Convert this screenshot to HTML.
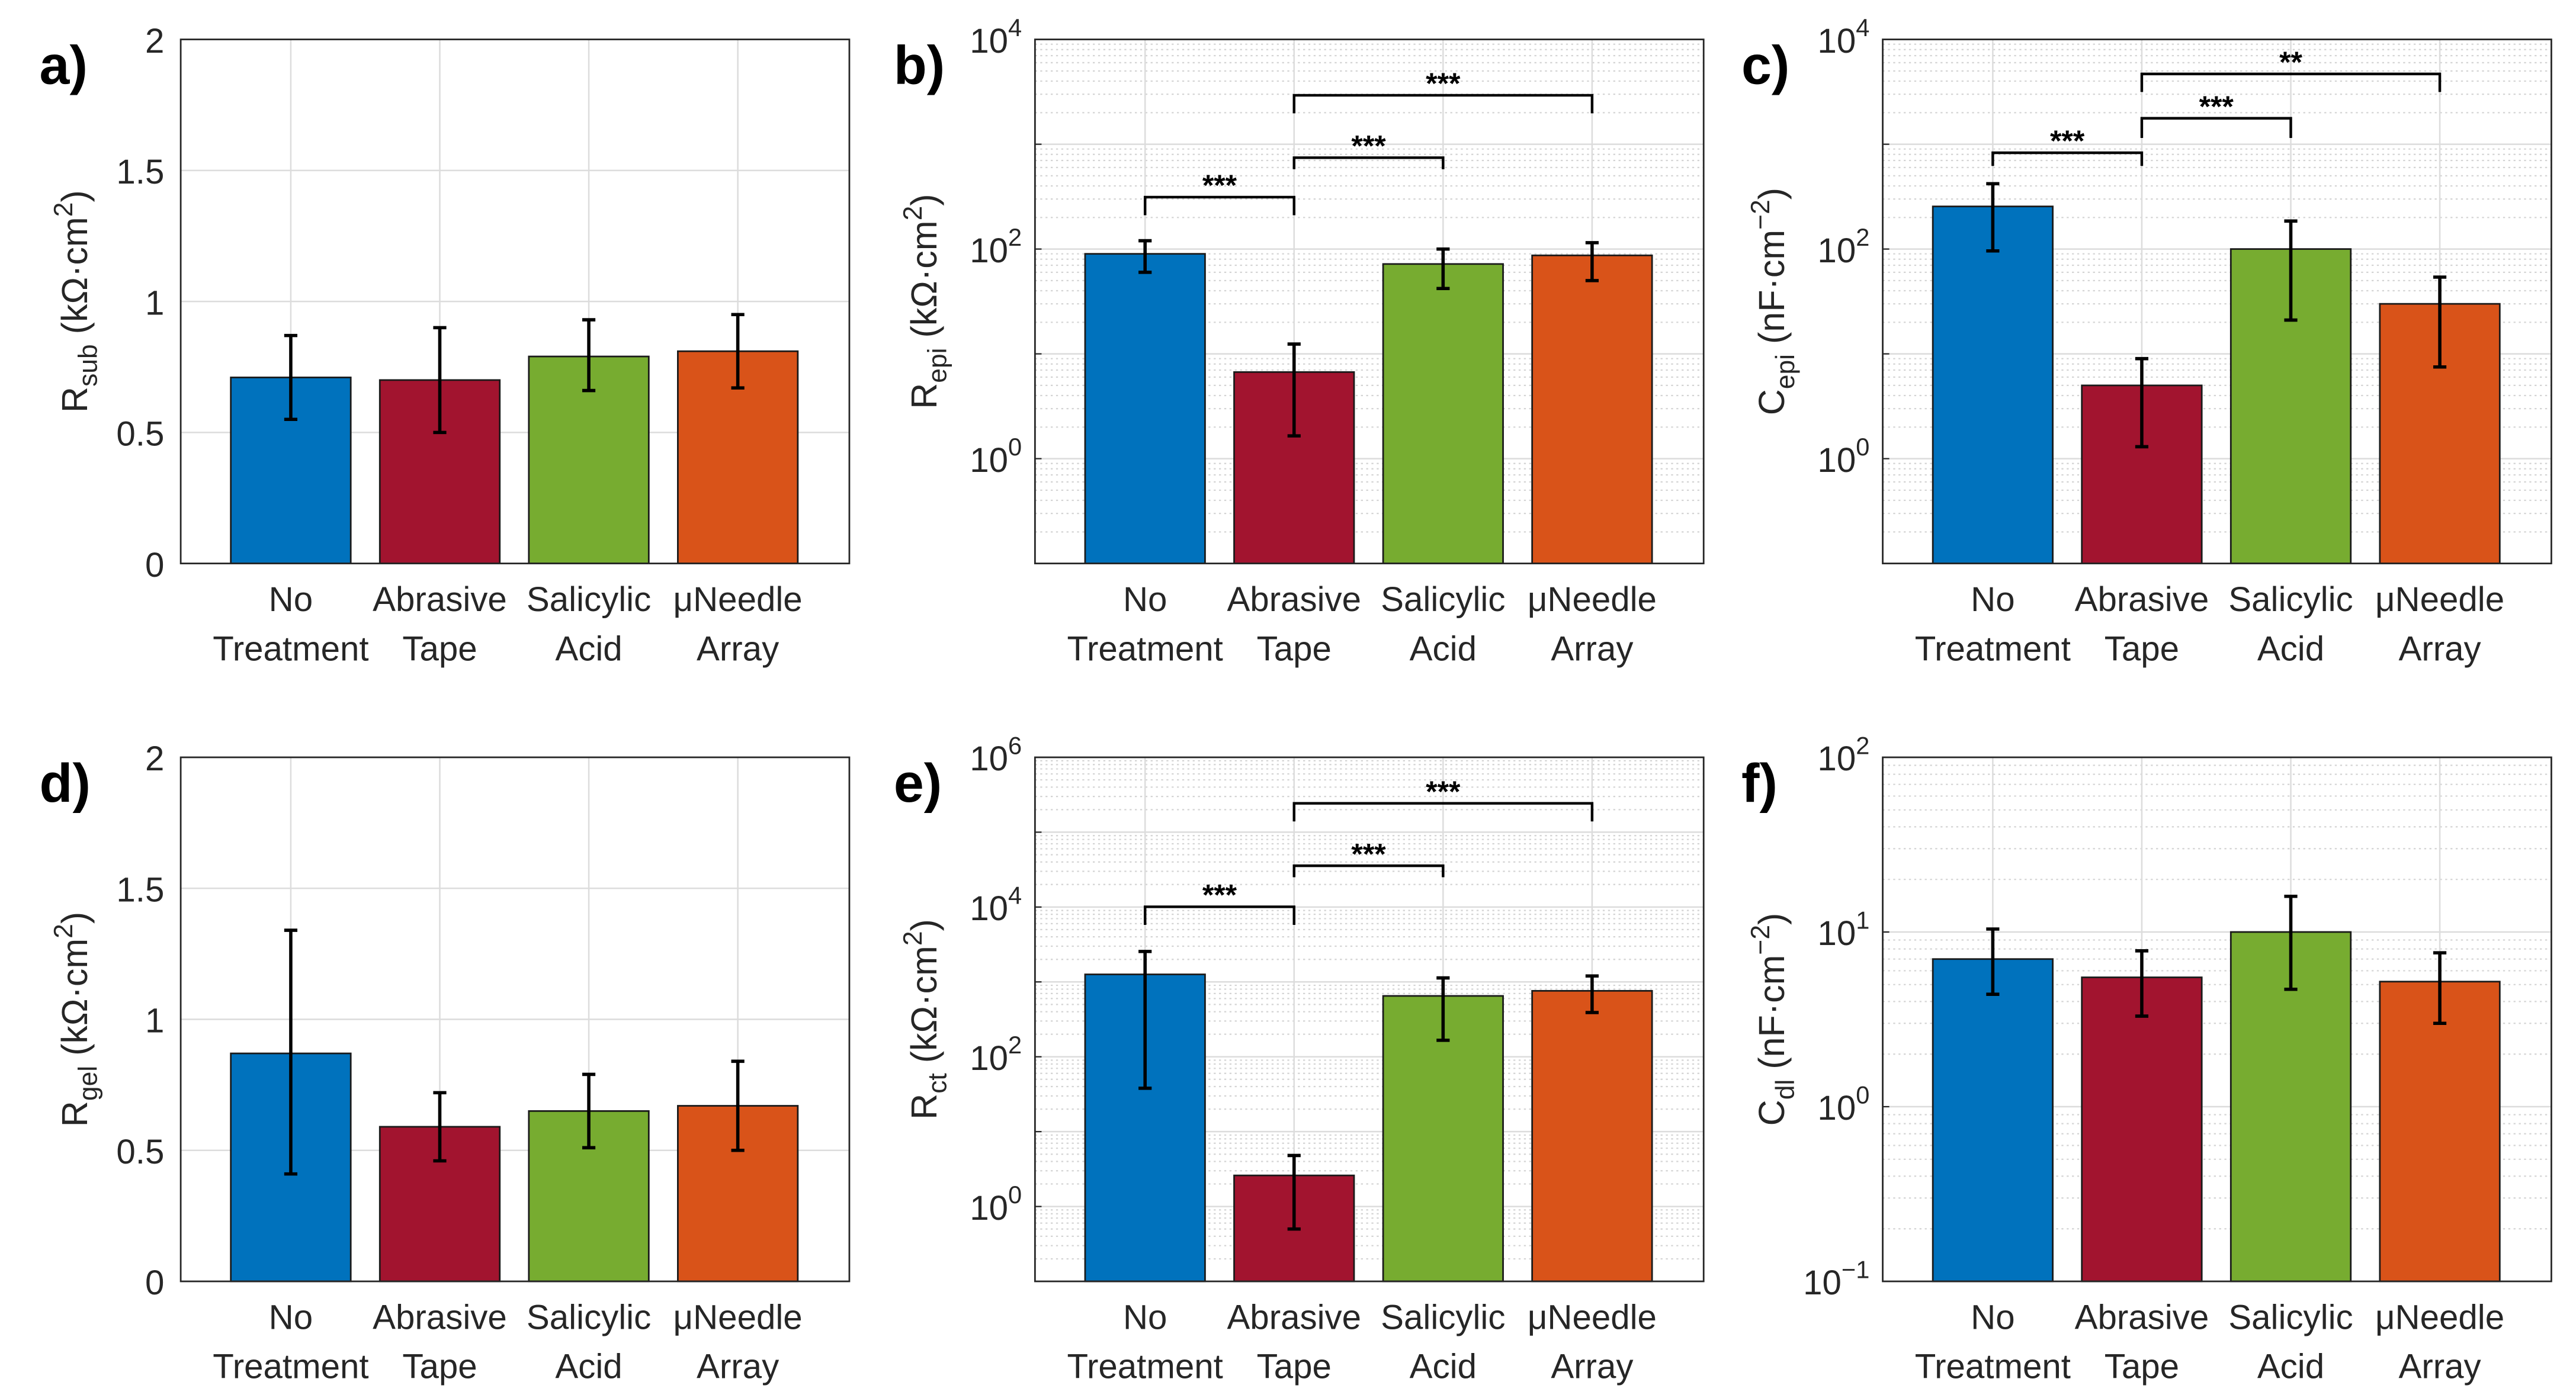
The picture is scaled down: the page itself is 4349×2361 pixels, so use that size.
<!DOCTYPE html>
<html><head><meta charset="utf-8">
<style>
html,body{margin:0;padding:0;background:#fff;}
svg{display:block;}
text{font-family:"Liberation Sans",Arial,sans-serif;fill:#262626;}
</style></head>
<body>
<svg id="fig" xmlns="http://www.w3.org/2000/svg" width="4349" height="2361" viewBox="0 0 1568 851" preserveAspectRatio="none">
<rect x="0" y="0" width="1568" height="851" fill="#fff"/>
</svg>
<script>
const categories = [["No","Treatment"],["Abrasive","Tape"],["Salicylic","Acid"],["\u03bcNeedle","Array"]];
const colors = ["#0072BD","#A2142F","#77AC30","#D95319"];

const aValues = [0.71,0.70,0.79,0.81];
const aLow = [0.55,0.50,0.66,0.67];
const aHigh = [0.87,0.90,0.93,0.95];

const bValues = [90,6.7,72,87];
const bLow = [60,1.65,42,50];
const bHigh = [120,12.4,100,115];

const cValues = [255,5,100,30];
const cLow = [96,1.3,21,7.5];
const cHigh = [420,9,185,54];

const dValues = [0.87,0.59,0.65,0.67];
const dLow = [0.41,0.46,0.51,0.50];
const dHigh = [1.34,0.72,0.79,0.84];

const eValues = [1260,2.6,650,760];
const eLow = [38,0.5,166,390];
const eHigh = [2550,4.8,1130,1200];

const fValues = [7,5.5,10,5.2];
const fLow = [4.4,3.3,4.7,3.0];
const fHigh = [10.4,7.8,16,7.6];

const linTicks = [0,0.5,1,1.5,2];
const linTickLabels = ["0","0.5","1","1.5","2"];

const NS = "http://www.w3.org/2000/svg";
const svg = document.getElementById('fig');
function el(tag, attrs, parent){
  const e = document.createElementNS(NS, tag);
  for (const k in attrs) e.setAttribute(k, attrs[k]);
  (parent||svg).appendChild(e);
  return e;
}

function panel(opt){
  const g = el('g', {});
  
  
  const L=opt.left, R=opt.left+407, T=opt.top, B=opt.top+319;
  let yScale;
  if (opt.log){
    const span = opt.max - opt.min;
    yScale = v => B - (Math.log10(v) - opt.min) / span * (B - T);
  } else {
    yScale = v => B - v / 2 * (B - T);
  }
  const n = categories.length;
  const xScale = i => L + 67 + 90.7 * i;
  if (opt.log){
    for (let d = opt.min; d < opt.max; d++){
      for (let m = 2; m <= 9; m++){
        const y = yScale(m * Math.pow(10, d));
        const ln = el('line', {x1:L,x2:R,y1:y,y2:y,stroke:'#d4d4d4','stroke-width':0.8,'stroke-dasharray':'1.2,2'}, g);
        
        
      }
    }
    for (let d = opt.min; d <= opt.max; d++){
      const y = yScale(Math.pow(10, d));
      const ln = el('line', {x1:L,x2:R,y1:y,y2:y,stroke:'#dcdcdc','stroke-width':0.9}, g);
      
      
      if (opt.labelDecades.indexOf(d) >= 0){
        const t = el('text', {x:L-8,y:y+8,'font-size':21,'text-anchor':'end'}, g);
        
        
        const t1 = el('tspan', {}, t); t1.textContent = '10';
        const t2 = el('tspan', {dy:-10,'font-size':15}, t); t2.textContent = (d < 0 ? '\u2212' + (-d) : '' + d);
      }
      if (d > opt.min && d < opt.max){
        el('line', {x1:L,x2:L+4,y1:y,y2:y,stroke:'#262626','stroke-width':0.8}, g);
      }
    }
  } else {
    linTicks.forEach((v, i) => {
      const y = yScale(v);
      const ln = el('line', {x1:L,x2:R,y1:y,y2:y,stroke:'#dcdcdc','stroke-width':0.9}, g);
      
      
      const t = el('text', {x:L-10,y:y+8,'font-size':21,'text-anchor':'end'}, g);
      
      
      t.textContent = linTickLabels[i];
    });
  }
  for (let i = 0; i < n; i++){
    const x = xScale(i);
    el('line', {x1:x,x2:x,y1:T,y2:B,stroke:'#dcdcdc','stroke-width':0.9}, g);
  }
  const bw = 73;
  for (let i = 0; i < n; i++){
    const x = xScale(i);
    const y = yScale(opt.values[i]);
    const r = el('rect', {x:x-bw/2,y:y,width:bw,height:B-y,fill:colors[i],stroke:'#1a1a1a','stroke-width':1}, g);
    
    
  }
  for (let i = 0; i < n; i++){
    const x = xScale(i);
    const y1 = yScale(opt.low[i]), y2 = yScale(opt.high[i]);
    const eb = el('path', {d:`M${x},${y1}V${y2}M${x-4},${y1}H${x+4}M${x-4},${y2}H${x+4}`,stroke:'#000','stroke-width':2,fill:'none'}, g);
    
    
  }
  const box = el('rect', {x:L,y:T,width:R-L,height:B-T,fill:'none',stroke:'#262626','stroke-width':1}, g);
  
  
  (opt.brackets || []).forEach(br => {
    const xa = xScale(br[0]), xb = xScale(br[1]);
    const y = T + br[2], yd = T + br[3];
    const p = el('path', {d:`M${xa},${yd}V${y}H${xb}V${yd}`,stroke:'#000','stroke-width':1.6,fill:'none'}, g);
    
    
    const t = el('text', {x:(xa+xb)/2,y:y-1,'font-size':18,'font-weight':'bold','text-anchor':'middle',style:'fill:#000'}, g);
    
    
    t.textContent = br[4];
  });
  for (let i = 0; i < n; i++){
    const x = xScale(i);
    const t = el('text', {x:x,y:B+29,'font-size':21,'text-anchor':'middle'}, g);
    
    
    t.textContent = categories[i][0];
    const t2 = el('text', {x:x,y:B+59,'font-size':21,'text-anchor':'middle'}, g);
    
    
    t2.textContent = categories[i][1];
  }
  const cy = (T + B) / 2;
  const yl = el('text', {x:0,y:0,'font-size':22,'text-anchor':'middle',transform:`translate(${opt.ylx},${cy}) rotate(-90)`}, g);
  
  
  const s1 = el('tspan', {}, yl); s1.textContent = opt.ysym;
  const s2 = el('tspan', {dy:6,'font-size':16}, yl); s2.textContent = opt.ysub;
  const s3 = el('tspan', {dy:-6}, yl); s3.textContent = ' ' + opt.yunit;
  const s4 = el('tspan', {dy:-9,'font-size':16}, yl); s4.textContent = opt.ysup;
  const s5 = el('tspan', {dy:9}, yl); s5.textContent = ')';
  const pl = el('text', {x:opt.left-86,y:T+27,'font-size':33,'font-weight':'bold','text-anchor':'start',style:'fill:#000'}, g);
  
  
  pl.textContent = opt.letter;
}

const R1 = 24, R2 = 461;
panel({name:'panel-a',letter:'a)',left:110,top:R1,log:false,values:aValues,low:aLow,high:aHigh,ylx:53,ysym:'R',ysub:'sub',yunit:'(k\u03a9\u00b7cm',ysup:'2'});
panel({name:'panel-b',letter:'b)',left:630,top:R1,log:true,min:-1,max:4,labelDecades:[0,2,4],values:bValues,low:bLow,high:bHigh,ylx:570,ysym:'R',ysub:'epi',yunit:'(k\u03a9\u00b7cm',ysup:'2',
  brackets:[[0,1,96,107,'***'],[1,2,72,79,'***'],[1,3,34,45,'***']]});
panel({name:'panel-c',letter:'c)',left:1146,top:R1,log:true,min:-1,max:4,labelDecades:[0,2,4],values:cValues,low:cLow,high:cHigh,ylx:1086,ysym:'C',ysub:'epi',yunit:'(nF\u00b7cm',ysup:'\u22122',
  brackets:[[0,1,69,77,'***'],[1,2,48,60,'***'],[1,3,21,32,'**']]});
panel({name:'panel-d',letter:'d)',left:110,top:R2,log:false,values:dValues,low:dLow,high:dHigh,ylx:53,ysym:'R',ysub:'gel',yunit:'(k\u03a9\u00b7cm',ysup:'2'});
panel({name:'panel-e',letter:'e)',left:630,top:R2,log:true,min:-1,max:6,labelDecades:[0,2,4,6],values:eValues,low:eLow,high:eHigh,ylx:570,ysym:'R',ysub:'ct',yunit:'(k\u03a9\u00b7cm',ysup:'2',
  brackets:[[0,1,91,102,'***'],[1,2,66,73,'***'],[1,3,28,39,'***']]});
panel({name:'panel-f',letter:'f)',left:1146,top:R2,log:true,min:-1,max:2,labelDecades:[-1,0,1,2],values:fValues,low:fLow,high:fHigh,ylx:1086,ysym:'C',ysub:'dl',yunit:'(nF\u00b7cm',ysup:'\u22122'});
</script>
</body></html>
